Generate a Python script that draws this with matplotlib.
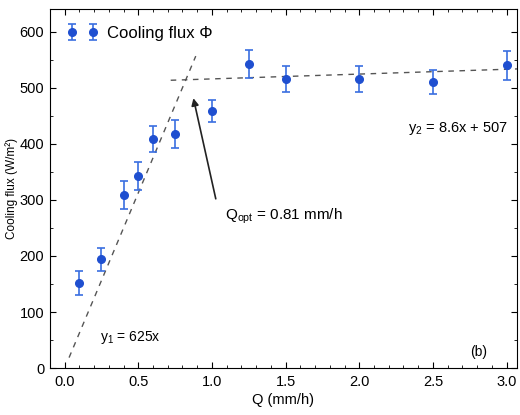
import numpy as np
import matplotlib.pyplot as plt
from matplotlib.ticker import MultipleLocator

plt.rcParams['font.family'] = ['Liberation Sans', 'DejaVu Sans']
plt.rcParams['font.size'] = 10.5

# measured cooling flux
q = [0.1, 0.25, 0.4, 0.5, 0.6, 0.75, 1.0, 1.25, 1.5, 2.0, 2.5, 3.0]
flux = [152, 194, 308, 342, 408, 418, 458, 542, 516, 516, 510, 540]
flux_err = [21, 20, 25, 25, 23, 25, 20, 25, 23, 23, 22, 26]

# linear fits
fit1_q = [0.03, 0.89]
fit1_slope = 625
fit2_q = [0.72, 3.1]
fit2_slope, fit2_icpt = 8.6, 507
q_opt = 0.81


def main():
    fig = plt.figure(figsize=(5.2, 4.15), dpi=100)
    ax = fig.add_axes([0.096, 0.113, 0.898, 0.865])

    f1 = fit1_slope * np.array(fit1_q)
    f2 = fit2_slope * np.array(fit2_q) + fit2_icpt
    ax.plot(fit1_q, f1, ls=(0, (4, 4)), color='#555555', lw=1)
    ax.plot(fit2_q, f2, ls=(0, (4, 4)), color='#555555', lw=1)

    ax.errorbar(q, flux, yerr=flux_err, fmt='o', color='#1f4fd0', ms=5.5,
                ecolor='#3a6ee0', elinewidth=1.2, capsize=3, capthick=1.2,
                label='Cooling flux Φ')

    # Q_opt annotation
    ax.annotate('', xy=(0.87, 486), xytext=(1.03, 297),
                arrowprops=dict(arrowstyle='-|>', color='#222222', lw=1.2))
    ax.text(1.09, 270, r'$\mathregular{Q_{opt}}$ = 0.81 mm/h', fontsize=11,
            va='center')
    ax.text(0.24, 54, r'$\mathregular{y_1}$ = 625x', fontsize=10, va='center')
    ax.text(2.33, 427, r'$\mathregular{y_2}$ = 8.6x + 507', fontsize=10.5,
            va='center')
    ax.text(2.75, 29, '(b)', fontsize=10, va='center')

    ax.set_xlim(-0.1, 3.07)
    ax.set_ylim(0, 640)
    ax.xaxis.set_major_locator(MultipleLocator(0.5))
    ax.xaxis.set_minor_locator(MultipleLocator(0.1))
    ax.yaxis.set_major_locator(MultipleLocator(100))
    ax.yaxis.set_minor_locator(MultipleLocator(50))
    ax.tick_params(which='both', direction='in', top=True, right=True)
    ax.tick_params(which='major', length=4, pad=5)
    ax.tick_params(which='minor', length=2)
    ax.tick_params(axis='y', which='major', pad=4)

    ax.set_xlabel('Q (mm/h)', labelpad=3)
    ax.set_ylabel('Cooling flux (W/m²)', fontsize=8.5)
    ax.yaxis.set_label_coords(-0.068, 0.5)

    ax.legend(loc='upper left', numpoints=2, frameon=False, fontsize=12,
              handletextpad=0.5, handlelength=1.9, borderaxespad=0.6)

    fig.savefig('out.png', dpi=100)


if __name__ == "__main__":
    main()
